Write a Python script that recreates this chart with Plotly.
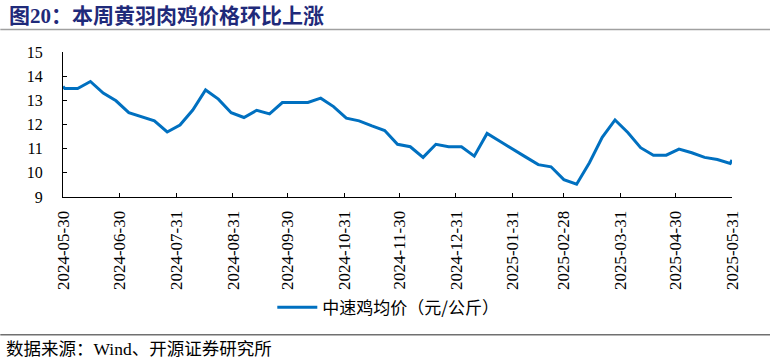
import pandas as pd
import plotly.graph_objects as go

title_text = "图20：本周黄羽肉鸡价格环比上涨"
source_text = "数据来源：Wind、开源证券研究所"
series_name = "中速鸡均价（元/公斤）"

weekly_dates = [d.strftime("%Y-%m-%d") for d in pd.date_range("2024-05-31", "2025-05-30", freq="7D")]
dates = ["2024-05-30"] + weekly_dates + ["2025-05-31"]

prices = [
    13.57, 13.49, 13.49, 13.78, 13.30, 12.98, 12.49, 12.33, 12.15, 11.69,
    11.98, 12.60, 13.43, 13.05, 12.49, 12.29, 12.59, 12.44, 12.91, 12.91,
    12.91, 13.09, 12.74, 12.26, 12.15, 11.94, 11.75, 11.18, 11.08, 10.64,
    11.18, 11.08, 11.08, 10.69, 11.63, 11.31, 11.00, 10.66, 10.34, 10.25,
    9.72, 9.53, 10.42, 11.47, 12.19, 11.67, 11.04, 10.73, 10.73, 10.98,
    10.83, 10.64, 10.55, 10.39, 10.53,
]

tick_dates = [
    "2024-05-30", "2024-06-30", "2024-07-31", "2024-08-31", "2024-09-30",
    "2024-10-31", "2024-11-30", "2024-12-31", "2025-01-31", "2025-02-28",
    "2025-03-31", "2025-04-30", "2025-05-31",
]
y_ticks = [9, 10, 11, 12, 13, 14, 15]

W, H = 770, 360
L, R, T, B = 62.7, 731.7, 52.3, 196.7
pw, ph = R - L, B - T

SERIF = "Liberation Serif"

def px(x):
    return (x - L) / pw

def py(y):
    return (B - y) / ph

fig = go.Figure()
fig.add_trace(go.Scatter(
    x=dates, y=prices, mode="lines", name=series_name,
    line=dict(color="#0070C0", width=3),
))

fig.update_layout(
    width=W, height=H,
    margin=dict(l=L, r=W - R, t=T, b=H - B, pad=0),
    paper_bgcolor="white", plot_bgcolor="white",
    font=dict(family=SERIF),
    showlegend=True,
    legend=dict(
        orientation="h", x=px(272), y=py(307), xanchor="left", yanchor="middle",
        font=dict(family="Noto Sans CJK SC", size=17, color="#000000"),
        bgcolor="rgba(0,0,0,0)", itemwidth=40,
    ),
    xaxis=dict(
        type="date", range=["2024-05-30", "2025-05-31"],
        tickvals=tick_dates, ticktext=tick_dates, tickangle=-90,
        ticks="inside", ticklen=4, tickcolor="#000000",
        showline=True, linecolor="#000000", linewidth=1,
        showgrid=False, zeroline=False,
        tickfont=dict(family=SERIF, size=17, color="#000000"),
        ticklabelstandoff=6,
    ),
    yaxis=dict(
        range=[9, 15], tickvals=y_ticks,
        ticks="inside", ticklen=4, tickcolor="#000000",
        showline=True, linecolor="#000000", linewidth=1,
        showgrid=False, zeroline=False,
        tickfont=dict(family=SERIF, size=16, color="#000000"),
        ticklabelstandoff=16,
    ),
)

fig.add_annotation(
    xref="paper", yref="paper", x=px(7), y=py(16), xanchor="left", yanchor="middle",
    text="<b>" + title_text + "</b>", showarrow=False,
    font=dict(family="Liberation Serif, Noto Sans CJK SC", size=21, color="#1F2A7A"),
)
fig.add_annotation(
    xref="paper", yref="paper", x=px(4), y=py(348), xanchor="left", yanchor="middle",
    text=source_text, showarrow=False,
    font=dict(family="Liberation Serif, Noto Sans CJK SC", size=17.5, color="#000000"),
)

fig.add_shape(type="line", xref="paper", yref="paper",
              x0=px(0), x1=px(770), y0=py(30), y1=py(30),
              line=dict(color="#A0A0A0", width=1.5))
fig.add_shape(type="line", xref="paper", yref="paper",
              x0=px(0), x1=px(770), y0=py(334), y1=py(334),
              line=dict(color="#707070", width=1.5))

fig.write_html(
    "out.html",
    config={"displayModeBar": False},
    post_script="document.body.style.margin='0';document.body.style.padding='0';",
)
